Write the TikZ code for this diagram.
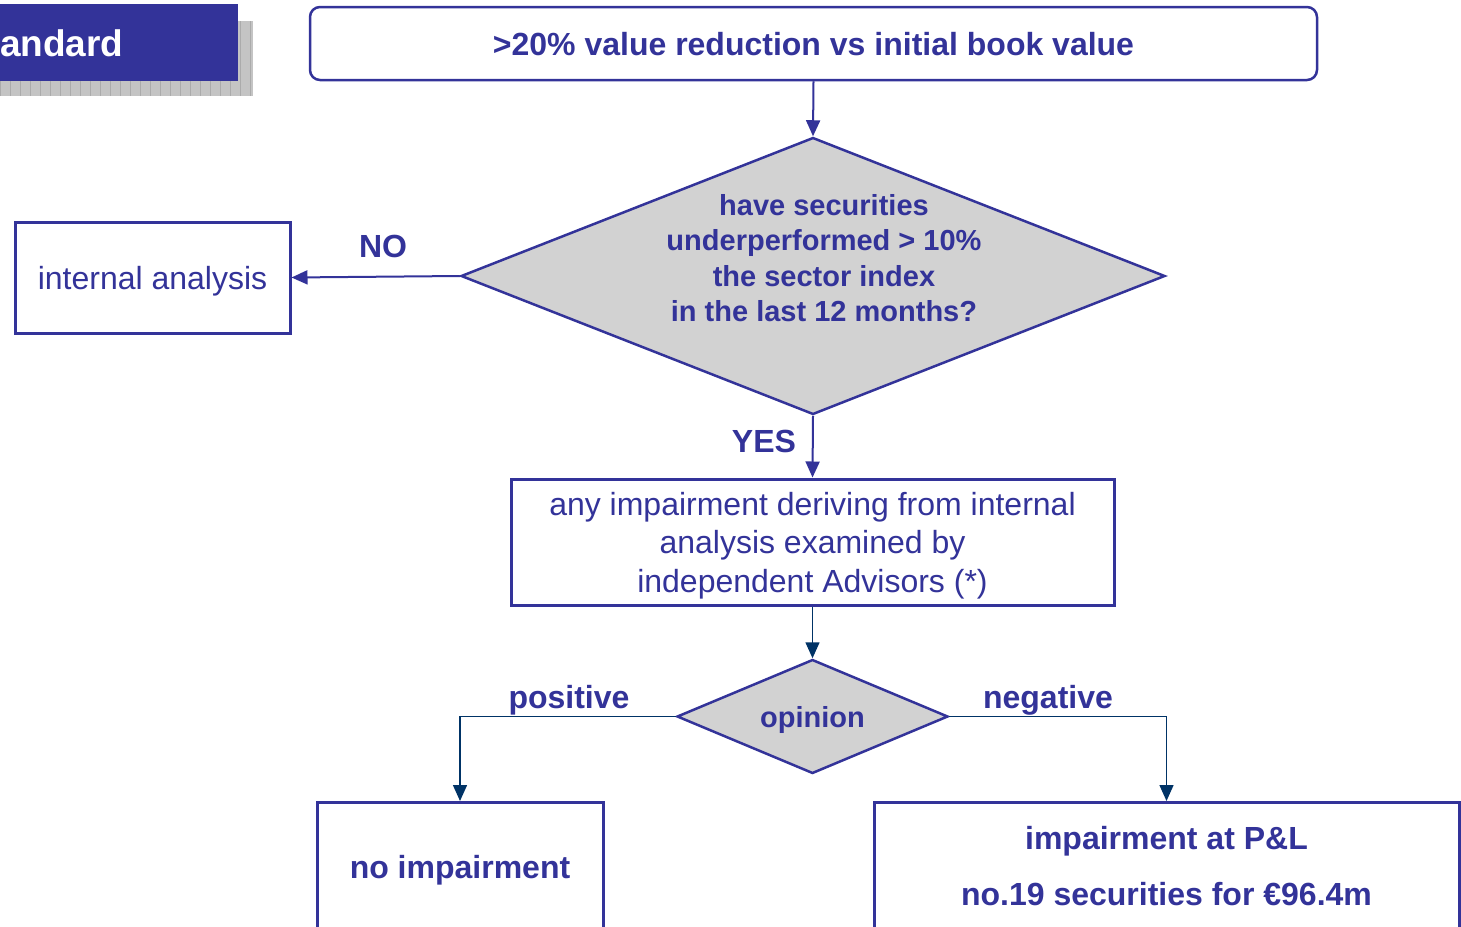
\documentclass[tikz,border=0pt]{standalone}
\usepackage{fontspec}
\setmainfont{Liberation Sans}
\usetikzlibrary{arrows.meta,shapes.geometric}
\definecolor{cblue}{HTML}{333399}
\definecolor{cnavy}{HTML}{003366}
\definecolor{cgray}{HTML}{D2D2D2}
\definecolor{shgray}{HTML}{C4C4C4}
\definecolor{shline}{HTML}{ABABAB}
\begin{document}
\begin{tikzpicture}[x=1pt,y=-1pt,
  box/.style={draw=cblue, line width=3pt, text=cblue, align=center, inner sep=0pt,
    font=\fontsize{32}{38.5}\selectfont},
  bbox/.style={box, font=\bfseries\fontsize{32}{38.5}\selectfont},
  dia/.style={diamond, draw=cblue, fill=cgray, line width=2.5pt, inner sep=0pt},
  arr/.style={draw=cblue, line width=2pt, -{Triangle[length=16pt,width=14pt]}},
  narr/.style={draw=cnavy, line width=1.5pt, -{Triangle[length=16pt,width=14pt]}},
  lbl/.style={text=cblue, inner sep=0pt, anchor=base, font=\bfseries\fontsize{32}{38}\selectfont}]
\useasboundingbox (0,0) rectangle (1461,926);
\clip (0,0) rectangle (1461,926);
% banner
\fill[shgray] (-5,21) rectangle (253,96);
\draw[step=10, shline, line width=0.8pt] (-5,21) grid (253,96);
\fill[cblue] (-5,4) rectangle (238,81);
\node[anchor=base west, inner sep=0pt, text=white, font=\bfseries\fontsize{37}{40}\selectfont] (ban) at (0,56) {andard};
% top box
\node[bbox, rounded corners=10pt, line width=2.5pt, text depth=0pt, minimum width=1007, minimum height=73] (top) at (813.5,43.5) {>20\% value reduction vs initial book value};
% question diamond
\node[dia, minimum width=704, minimum height=277] (q) at (813,276) {};
\node[text=cblue, align=center, inner sep=0pt, font=\bfseries\fontsize{29}{35.3}\selectfont] (qtxt) at (824,258) {have securities\\underperformed > 10\%\\the sector index\\in the last 12 months?};
\draw[arr] (top.south) -- (q.north);
% internal analysis
\node[box, text depth=0pt, minimum width=275, minimum height=111] (ia) at (152.5,277.5) {internal analysis};
\draw[arr] (q.west) -- (ia.east);
\node[lbl] (no) at (383,257) {NO};
% middle box
\node[box, text depth=0pt, minimum width=603, minimum height=126] (mid) at (812.5,542) {any impairment deriving from internal\\analysis examined by\\independent Advisors (*)};
\draw[arr] (q.south) -- (mid.north);
\node[lbl] (yes) at (764,452) {YES};
% opinion
\node[dia, shape aspect=2.4, text depth=0pt, minimum width=271, minimum height=114, text=cblue, font=\bfseries\fontsize{29}{35}\selectfont] (op) at (812.5,716.5) {opinion};
\draw[narr] (mid.south) -- (op.north);
% outcomes
\node[bbox, text depth=0pt, minimum width=286, minimum height=128] (noimp) at (460,866.5) {no impairment};
\node[bbox, minimum width=585, minimum height=128, font=\bfseries\fontsize{32}{56}\selectfont] (imp) at (1166.5,866.5) {impairment at P\&L\\no.19 securities for €96.4m};
\draw[narr] (op.west) -| (noimp.north);
\draw[narr] (op.east) -| (imp.north);
\node[lbl] (pos) at (569,708) {positive};
\node[lbl] (neg) at (1048,708) {negative};
\end{tikzpicture}
\end{document}
